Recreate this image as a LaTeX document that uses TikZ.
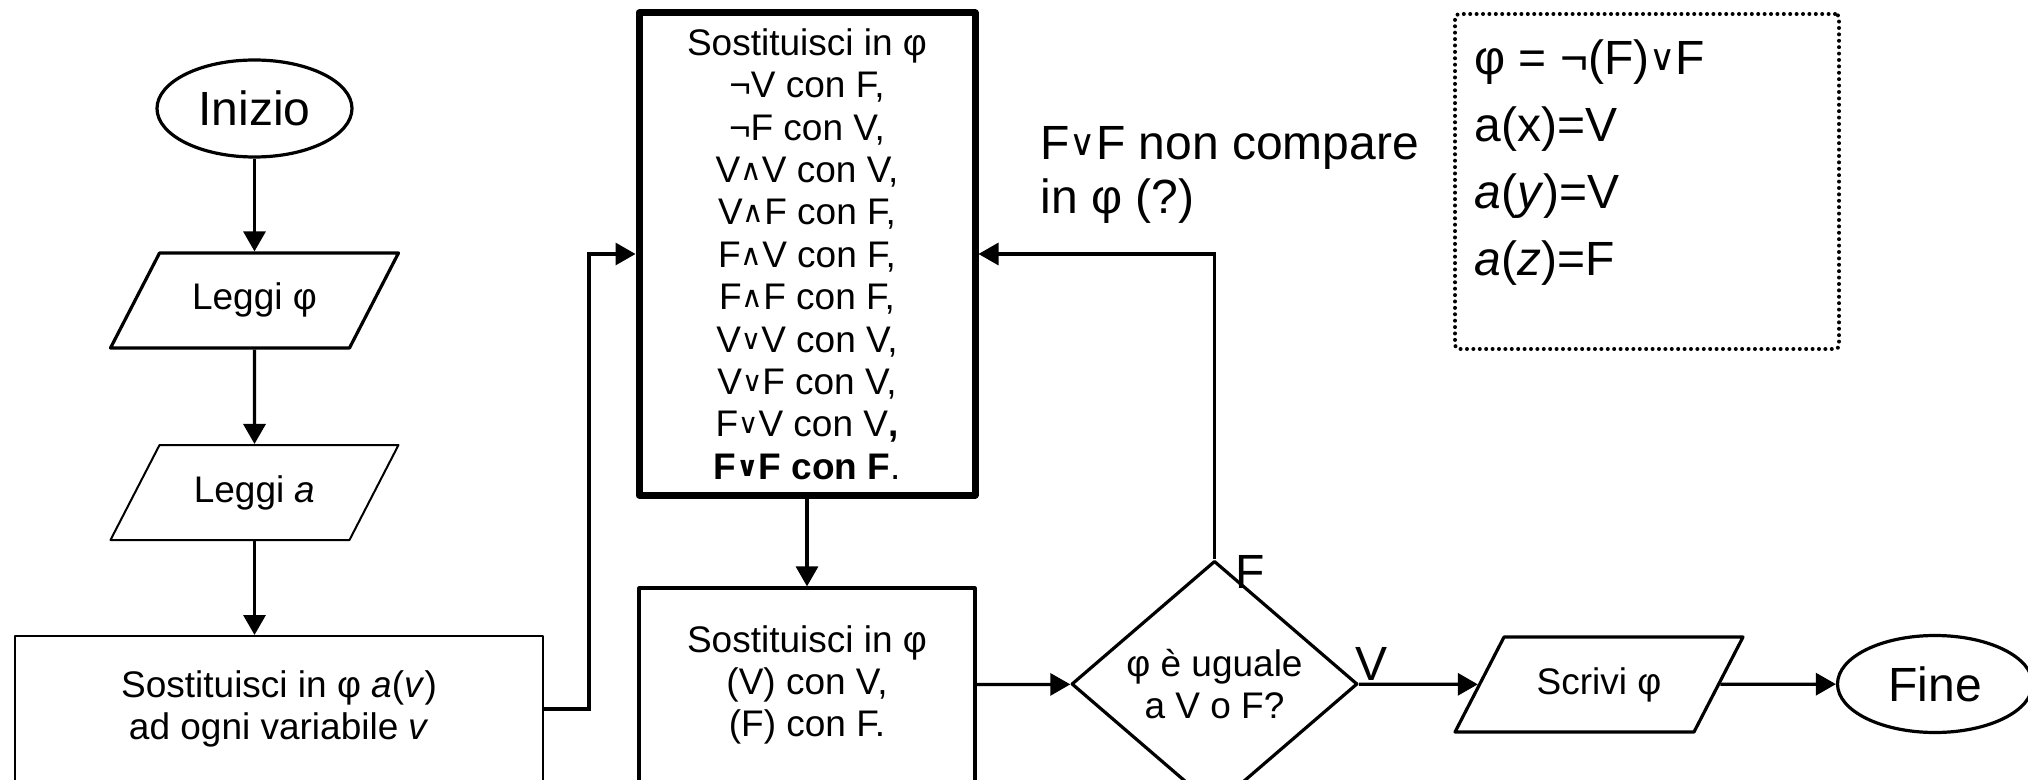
\documentclass[tikz,border=0pt]{standalone}
\usepackage{fontspec}
\usepackage{graphicx}
\setmainfont{Liberation Sans}
\newfontfamily\dejavu{DejaVu Sans}
\usetikzlibrary{arrows.meta,shapes.geometric,calc}
\newcommand{\orsym}{\raisebox{0.08em}{\scalebox{0.75}{\dejavu ∨}}}
\newcommand{\andsym}{\raisebox{0.05em}{\scalebox{0.8}{\dejavu ∧}}}
\newcommand{\boxfont}{\fontsize{18.5pt}{21.2pt}\selectfont}
\newcommand{\bigfont}{\fontsize{24pt}{27pt}\selectfont}
\tikzset{
  flow/.style={draw,line width=1.6pt,align=center,font=\boxfont,inner sep=0pt,line join=round},
  term/.style={flow,ellipse,font=\bigfont,minimum width=97.5pt,minimum height=48.5pt},
  io/.style={flow,trapezium,trapezium left angle=62.7,trapezium right angle=117.3,
    trapezium stretches body,text height=13.5pt,text depth=4pt,inner ysep=15pt,minimum width=144pt},
  proc/.style={flow,rectangle,minimum width=168pt},
  dec/.style={flow,diamond,minimum width=143pt,minimum height=96pt},
  notebox/.style={draw,line width=2pt,dash pattern=on 0pt off 3.2pt,line cap=round,rounded corners=2pt},
  link/.style={line width=1.6pt,-{Triangle[length=10pt,width=11pt]}},
  tag/.style={font=\bigfont,inner sep=0pt},
}

\begin{document}
\begin{tikzpicture}[x=0.5pt,y=-0.5pt]
  \useasboundingbox (0,0) rectangle (2028,780);
  \node[term] (start) at (254.5,108.5) {Inizio};
  \node[io] (readphi) at (254.5,300.5) {Leggi φ};
  \node[io,line width=1pt] (reada) at (254.5,492.5) {Leggi \textit{a}};
  \node[proc,line width=1pt,minimum width=263.75pt,minimum height=73pt] (assign) at (279,709)
    {Sostituisci in φ \textit{a}(\textit{v})\\ ad ogni variabile \textit{v}};
  \node[proc,line width=3.5pt,minimum height=241pt] (subst) at (807,254) {Sostituisci in φ\\
    ¬V con F,\\ ¬F con V,\\ V\andsym V con V,\\ V\andsym F con F,\\ F\andsym V con F,\\
    F\andsym F con F,\\ V\orsym V con V,\\ V\orsym F con V,\\ F\orsym V con V\textbf{,}\\
    \textbf{F\orsym F con F}.};
  \node[proc,minimum height=97pt] (paren) at (807,685) {Sostituisci in φ\\ (V) con V,\\ (F) con F.};
  \node[dec] (test) at (1214.5,684) {φ è uguale\\ a V o F?};
  \node[io] (write) at (1599,684.5) {Scrivi φ};
  \node[term] (stop) at (1935,684) {Fine};
  \node[notebox,minimum width=192pt,minimum height=167.5pt] (note) at (1647,181.5) {};
  \node[tag,anchor=north west,align=left,font=\fontsize{24pt}{33.6pt}\selectfont] (notetext) at (1474,39)
    {φ = ¬(F)\orsym F\\ a(x)=V\\ \textit{a}(\textit{y})=V\\ \textit{a}(\textit{z})=F};
  \node[tag,anchor=west,align=left] (msg) at (1040,175) {F\orsym F non compare\\ in φ (?)};
  \node[tag] (flab) at (1250,572) {F};
  \node[tag] (vlab) at (1371,664) {V};

  \draw[link] (start) -- (readphi);
  \draw[link] (readphi) -- (reada);
  \draw[link] (reada.south) -- (reada.south |- assign.north);
  \coordinate (jog) at (589,254);
  \draw[link] (assign.east) -| (jog) -- (subst.west);
  \draw[link] (subst) -- (paren);
  \draw[link] (paren) -- (test);
  \draw[link] (test.north) |- (subst.east);
  \draw[link] (test) -- (write);
  \draw[link] (write) -- (stop);
\end{tikzpicture}
\end{document}
